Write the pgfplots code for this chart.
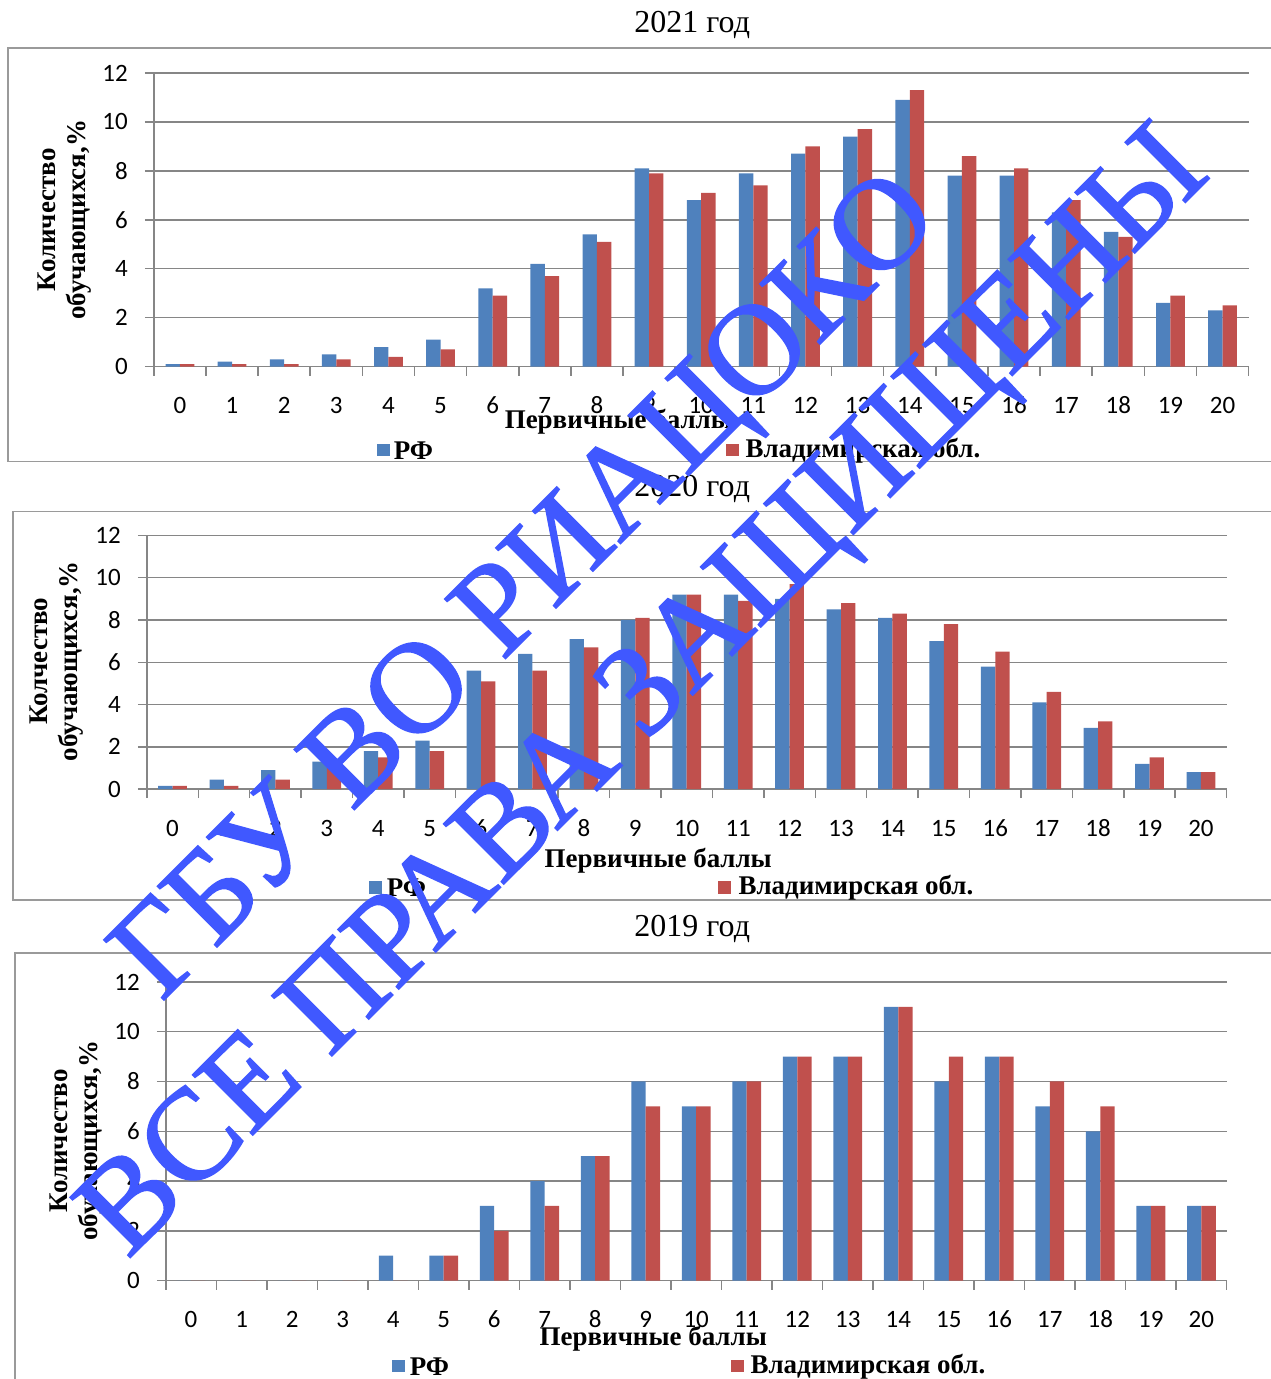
\documentclass[border=0pt]{standalone}
\usepackage{fontspec}
\setmainfont{Liberation Serif}
\newfontfamily\carlito{Carlito}
\newfontfamily\wmfont[FakeBold=1.2]{Liberation Serif}
\usepackage{pgfplots}
\pgfplotsset{compat=1.18}
\definecolor{barblue}{HTML}{4F81BD}
\definecolor{barred}{HTML}{C0504D}
\definecolor{axgray}{HTML}{868686}
\definecolor{framegray}{HTML}{9A9A9A}
\definecolor{wmblue}{RGB}{64,88,255}

\pgfplotsset{
  panel/.style={
    scale only axis,
    anchor=south west,
    ybar=0pt, bar width=7.2pt,
    xmin=-0.5, xmax=20.5, ymin=0, ymax=12,
    xtick={-0.5,0.5,...,20.5},
    x tick label as interval,
    xticklabels={0,1,2,3,4,5,6,7,8,9,10,11,12,13,14,15,16,17,18,19,20},
    ytick={0,2,...,12},
    axis x line*=bottom, axis y line*=left,
    axis line style={draw=axgray, line width=0.75pt, -},
    tick style={draw=axgray, line width=0.75pt},
    major tick length=4.5pt,
    tick align=outside,
    ymajorgrids, xmajorgrids=false,
    grid style={draw=axgray, line width=0.75pt},
    ticklabel style={font=\carlito\fontsize{12.5}{14}\selectfont},
    xticklabel style={yshift=-7.5pt, text height=8pt, text depth=0pt},
    yticklabel style={xshift=-5pt},
    /pgf/number format/assume math mode=true,
  },
  rf/.style={fill=barblue, draw=none},
  vl/.style={fill=barred, draw=none},
}

\begin{document}
\begin{tikzpicture}
\begin{scope}[x=0.5pt, y=-0.5pt]
\useasboundingbox (0,0) rectangle (1272,1379);
% frames
\draw[framegray, line width=0.75pt] (8,48) rectangle (1290,462);
\draw[framegray, line width=0.75pt] (13,512) rectangle (1290,901);
\draw[framegray, line width=0.75pt] (15,954) rectangle (1290,1420);
\end{scope}

% ---------- 2021 ----------
\begin{axis}[panel, at={(77pt,-183.5pt)}, width=548pt, height=147pt]
\addplot[rf] coordinates {(0,0.1) (1,0.2) (2,0.3) (3,0.5) (4,0.8) (5,1.1) (6,3.2) (7,4.2) (8,5.4) (9,8.1) (10,6.8) (11,7.9) (12,8.7) (13,9.4) (14,10.9) (15,7.8) (16,7.8) (17,6.3) (18,5.5) (19,2.6) (20,2.3)};
\addplot[vl] coordinates {(0,0.1) (1,0.1) (2,0.1) (3,0.3) (4,0.4) (5,0.7) (6,2.9) (7,3.7) (8,5.1) (9,7.9) (10,7.1) (11,7.4) (12,9.0) (13,9.7) (14,11.3) (15,8.6) (16,8.1) (17,6.8) (18,5.3) (19,2.9) (20,2.5)};
\end{axis}

% ---------- 2020 ----------
\begin{axis}[panel, at={(73.5pt,-395pt)}, width=540.5pt, height=127pt]
\addplot[rf] coordinates {(0,0.15) (1,0.45) (2,0.9) (3,1.3) (4,1.8) (5,2.3) (6,5.6) (7,6.4) (8,7.1) (9,8.0) (10,9.2) (11,9.2) (12,9.0) (13,8.5) (14,8.1) (15,7.0) (16,5.8) (17,4.1) (18,2.9) (19,1.2) (20,0.8)};
\addplot[vl] coordinates {(0,0.15) (1,0.15) (2,0.45) (3,1.0) (4,1.5) (5,1.8) (6,5.1) (7,5.6) (8,6.7) (9,8.1) (10,9.2) (11,8.9) (12,9.7) (13,8.8) (14,8.3) (15,7.8) (16,6.5) (17,4.6) (18,3.2) (19,1.5) (20,0.8)};
\end{axis}

% ---------- 2019 ----------
\begin{axis}[panel, at={(83pt,-641pt)}, width=531pt, height=149.5pt]
\addplot[rf] coordinates {(0,0) (1,0) (2,0) (3,0) (4,1) (5,1) (6,3) (7,4) (8,5) (9,8) (10,7) (11,8) (12,9) (13,9) (14,11) (15,8) (16,9) (17,7) (18,6) (19,3) (20,3)};
\addplot[vl] coordinates {(0,0) (1,0) (2,0) (3,0) (4,0) (5,1) (6,2) (7,3) (8,5) (9,7) (10,7) (11,8) (12,9) (13,9) (14,11) (15,9) (16,9) (17,8) (18,7) (19,3) (20,3)};
\end{axis}

\begin{scope}[x=0.5pt, y=-0.5pt]
% titles
\node[font=\fontsize{16}{18}\selectfont] at (693,25) {2021 год};
\node[font=\fontsize{16}{18}\selectfont] at (693,490) {2020 год};
\node[font=\fontsize{16}{18}\selectfont] at (693,930) {2019 год};
% y labels
\node[rotate=90, align=center, font=\bfseries\fontsize{13.5}{15}\selectfont] at (65,220) {Количество\\обучающихся,\%};
\node[rotate=90, align=center, font=\bfseries\fontsize{13.5}{15}\selectfont] at (57,662) {Колчество\\обучающихся,\%};
\node[rotate=90, align=center, font=\bfseries\fontsize{13.5}{15}\selectfont] at (77,1142) {Количество\\обучающихся,\%};
% x labels
\node[font=\bfseries\fontsize{13.5}{15}\selectfont] at (619,422) {Первичные баллы};
\node[font=\bfseries\fontsize{13.5}{15}\selectfont] at (659,862) {Первичные баллы};
\node[font=\bfseries\fontsize{13.5}{15}\selectfont] at (654,1340) {Первичные баллы};
% legends
\fill[barblue] (377,444) rectangle (390,457);
\node[anchor=west, inner sep=0pt, font=\bfseries\fontsize{13.5}{15}\selectfont] at (394,451) {РФ};
\fill[barred] (727,444) rectangle (740,457);
\node[anchor=west, inner sep=0pt, font=\bfseries\fontsize{13.5}{15}\selectfont] at (746,451) {Владимирская обл.};
\fill[barblue] (369,882) rectangle (382,895);
\node[anchor=west, inner sep=0pt, font=\bfseries\fontsize{13.5}{15}\selectfont] at (387,889) {РФ};
\fill[barred] (719,882) rectangle (732,895);
\node[anchor=west, inner sep=0pt, font=\bfseries\fontsize{13.5}{15}\selectfont] at (739,889) {Владимирская обл.};
\fill[barblue] (392,1361) rectangle (405,1374);
\node[anchor=west, inner sep=0pt, font=\bfseries\fontsize{13.5}{15}\selectfont] at (410,1368) {РФ};
\fill[barred] (732,1361) rectangle (745,1374);
\node[anchor=west, inner sep=0pt, font=\bfseries\fontsize{13.5}{15}\selectfont] at (751,1368) {Владимирская обл.};
% watermark
\node[rotate=45, text=wmblue, font=\wmfont\fontsize{65}{65}\selectfont] at (532,592) {ГБУ ВО РИАЦОКО};
\node[rotate=45, text=wmblue, font=\wmfont\fontsize{65}{65}\selectfont] at (650,698) {ВСЕ ПРАВА ЗАЩИЩЕНЫ};
\end{scope}
\end{tikzpicture}
\end{document}
